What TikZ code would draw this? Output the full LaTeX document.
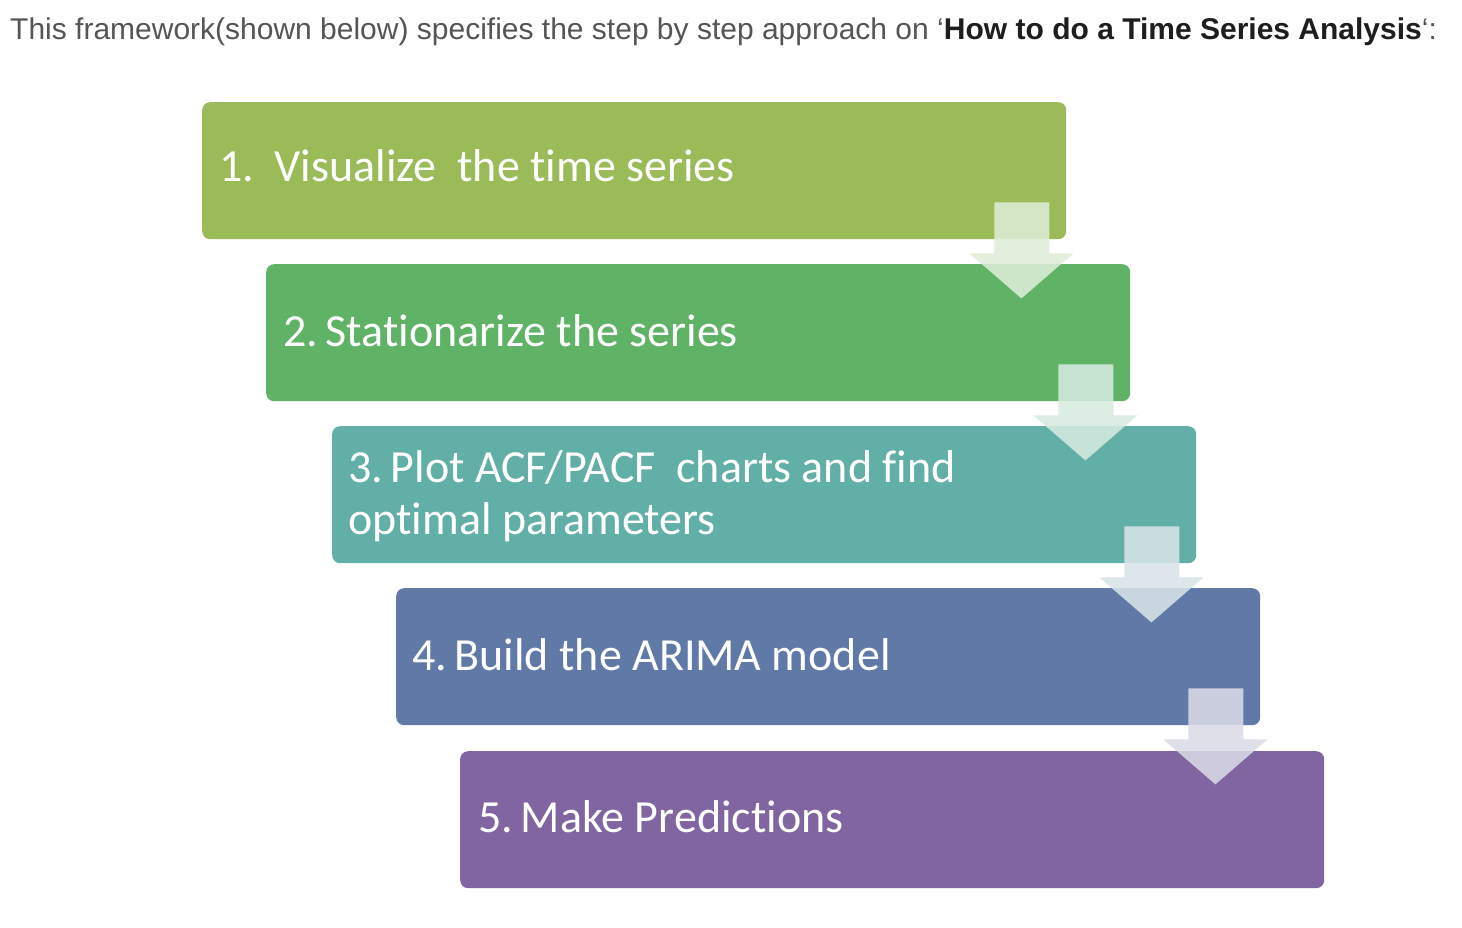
\documentclass[tikz,border=0pt]{standalone}
\usepackage{fontspec}
\setmainfont{Carlito}[Ligatures={NoCommon,NoRare,NoContextual},RawFeature={-liga,-dlig,-clig,-calt}]
\newfontfamily\titlefont{Liberation Sans}
\definecolor{cA}{RGB}{155,187,89}
\definecolor{cB}{RGB}{95,178,102}
\definecolor{cC}{RGB}{98,175,167}
\definecolor{cD}{RGB}{97,121,166}
\definecolor{cE}{RGB}{128,101,160}
\definecolor{titlegrey}{RGB}{85,85,85}
\definecolor{titledark}{RGB}{30,30,30}
\tikzset{
  stepbox/.style={rectangle, rounded corners=8pt, minimum width=864pt, minimum height=137pt, inner sep=0pt, anchor=north west, draw=none},
  steptext/.style={anchor=base west, inner sep=0pt, text=white, font=\fontsize{46}{52}\selectfont, align=left},
  arrowfill/.style={fill=#1, fill opacity=0.87, draw=none}
}
\newcommand\steparrow[3]{%
  \path[arrowfill=#3!25!white]
    ([shift={(-72,-37)}]#1.south east) -- ([shift={(-17,-37)}]#1.south east)
    -- ([shift={(-17,14)}]#1.south east) -- ([shift={(7,14)}]#1.south east)
    -- ([shift={(-45,59)}]#1.south east) -- ([shift={(-97,14)}]#1.south east)
    -- ([shift={(-72,14)}]#1.south east) -- cycle;}
\begin{document}
\begin{tikzpicture}[x=1pt,y=-1pt]
\path[use as bounding box, fill=white] (0,0) rectangle (1462,928);
\node[anchor=base west, inner sep=0pt, text=titlegrey, font=\titlefont\fontsize{30}{34}\selectfont] (title) at (10,40)
  {This framework(shown below) specifies the step by step approach on ‘{\color{titledark}\bfseries How to do a Time Series Analysis}‘:};
\node[stepbox, fill=cA] (b1) at (202,102) {};
\node[stepbox, fill=cB] (b2) at (266,264) {};
\node[stepbox, fill=cC] (b3) at (332,426) {};
\node[stepbox, fill=cD] (b4) at (396,588) {};
\node[stepbox, fill=cE] (b5) at (460,751) {};
\node[steptext] (t1) at ([shift={(17,80)}]b1.north west) {1.\ \ Visualize\ \ the time series};
\node[steptext] (t2) at ([shift={(17,82)}]b2.north west) {2.\,Stationarize the series};
\node[steptext] (t3) at ([shift={(16,108)}]b3.north west) {3.\,Plot ACF/PACF\ \ charts and find\\optimal parameters};
\node[steptext] (t4) at ([shift={(16,82)}]b4.north west) {4.\,Build the ARIMA model};
\node[steptext] (t5) at ([shift={(18,81)}]b5.north west) {5.\,Make Predictions};
\steparrow{b1}{b2}{cA!50!cB}
\steparrow{b2}{b3}{cB!50!cC}
\steparrow{b3}{b4}{cC!50!cD}
\steparrow{b4}{b5}{cD!50!cE}
\end{tikzpicture}
\end{document}
